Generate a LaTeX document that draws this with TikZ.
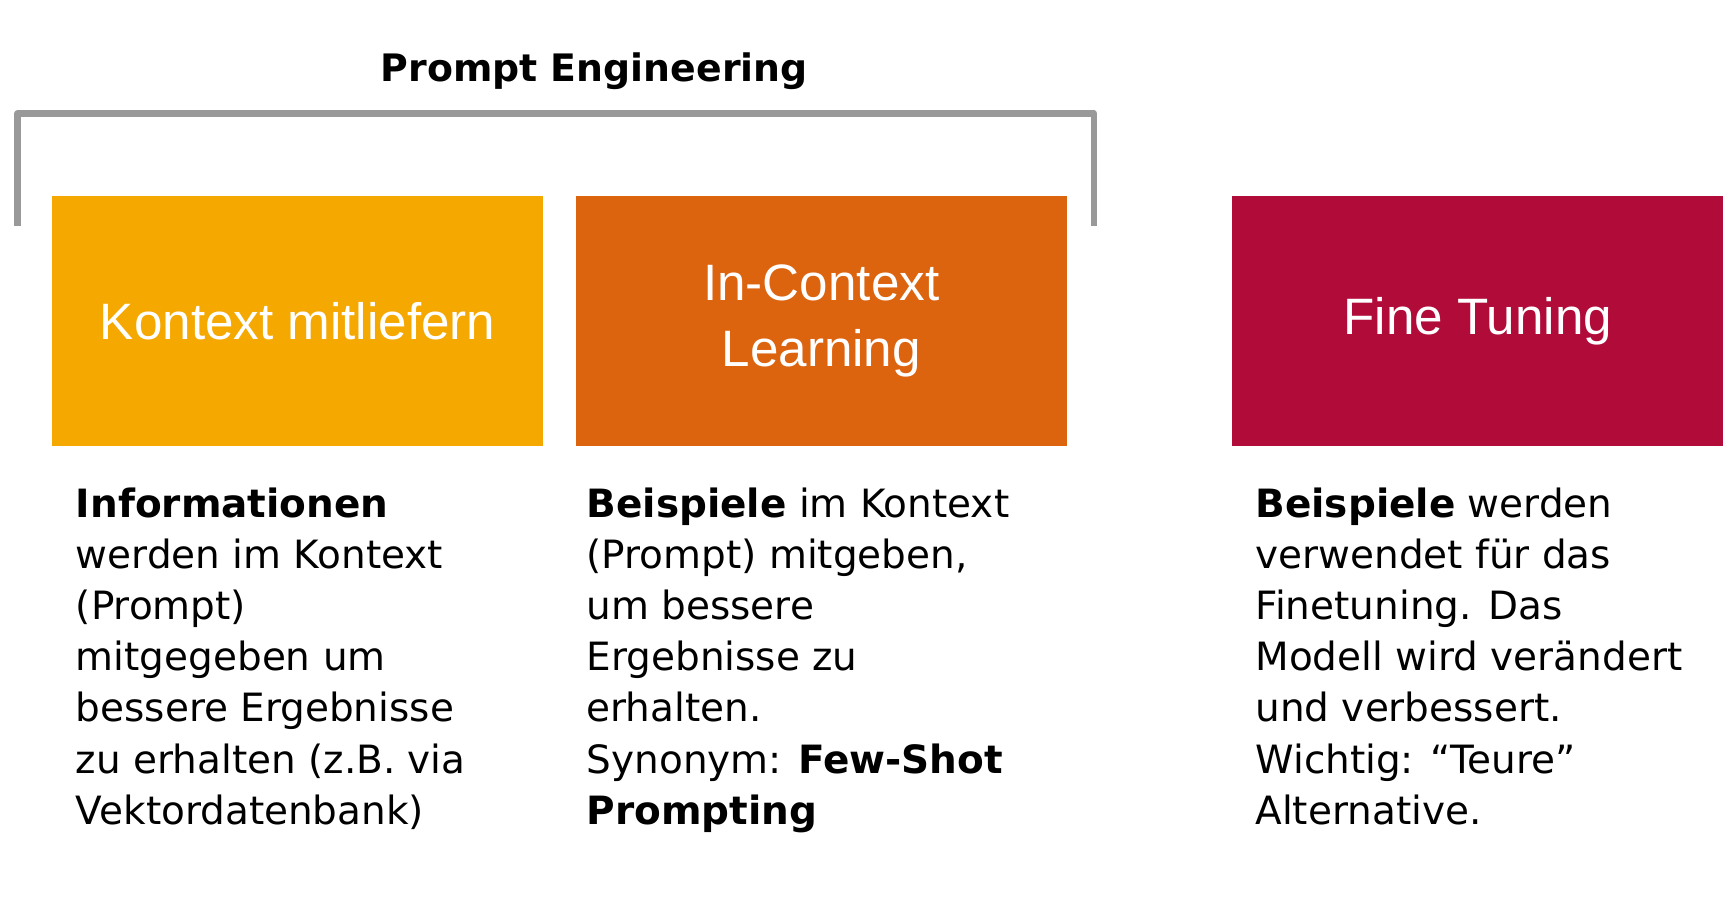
\documentclass[tikz,border=0pt]{standalone}
\usepackage{fontspec}
\setmainfont{DejaVu Sans}
\newfontfamily\arial{Liberation Sans}
\begin{document}
\begin{tikzpicture}[x=1pt,y=-1pt,
  boxs/.style={minimum width=441pt,minimum height=225pt,inner sep=0pt,text=white,font=\arial\fontsize{46}{60}\selectfont,align=center},
  desc/.style={anchor=north west,inner sep=0pt,align=left,font=\fontsize{35}{46}\selectfont}]
\useasboundingbox (0,0) rectangle (1560,818);
\node[font=\bfseries\fontsize{34}{40}\selectfont] (title) at (534,64) {Prompt Engineering};
\coordinate (b1) at (16,203); \coordinate (b2) at (16,102);
\coordinate (b3) at (983,102); \coordinate (b4) at (983,203);
\draw[line width=6pt,color=black!40,line join=round] (b1) -- (b2) -- (b3) -- (b4);
\node[boxs,fill={rgb,255:red,245;green,168;blue,0}] (k) at (267.5,288.5) {Kontext mitliefern};
\node[boxs,fill={rgb,255:red,221;green,100;blue,15}] (i) at (738,288.5) {In-Context\\Learning};
\node[boxs,fill={rgb,255:red,176;green,11;blue,57}] (f) at (1328,288.5) {Fine Tuning};
\node[desc] (d1) at (68,438) {\textbf{Informationen}\\werden im Kontext\\(Prompt)\\mitgegeben um\\bessere Ergebnisse\\zu erhalten (z.B. via\\Vektordatenbank)};
\node[desc] (d2) at (527,438) {\textbf{Beispiele} im Kontext\\(Prompt) mitgeben,\\um bessere\\Ergebnisse zu\\erhalten.\\Synonym: \textbf{Few-Shot}\\\textbf{Prompting}};
\node[desc] (d3) at (1128,438) {\textbf{Beispiele} werden\\verwendet für das\\Finetuning. Das\\Modell wird verändert\\und verbessert.\\Wichtig: “Teure”\\Alternative.};
\end{tikzpicture}
\end{document}
